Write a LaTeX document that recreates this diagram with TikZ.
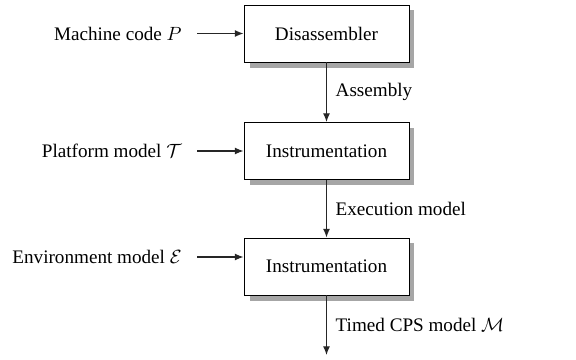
\documentclass[tikz,border=0pt]{standalone}
\usepackage{fontspec}
\setmainfont{Liberation Serif}
\usetikzlibrary{arrows.meta}
\begin{document}
\begin{tikzpicture}[x=0.5225pt,y=-0.5225pt,
  boxsize/.style={minimum width=86.2pt, minimum height=29.8pt, inner sep=0pt},
  stage/.style={boxsize, draw=black, line width=0.5pt, fill=white},
  boxshadow/.style={boxsize, fill=black!35},
  flow/.style={-{Latex[length=4.5pt,width=3.6pt]}, line width=0.6pt, draw=black!85},
  src/.style={anchor=east, inner sep=0pt},
  lbl/.style={anchor=west, inner sep=0pt},
  font=\fontsize{10}{12}\selectfont]
\useasboundingbox (0,0) rectangle (576,360);

% offset shadows, drawn first so the stages cover them
\node[boxshadow] (sh1) at (332,39) {};
\node[boxshadow] (sh2) at (332,156.5) {};
\node[boxshadow] (sh3) at (332,272) {};

\node[stage] (dis) at (326.5,33.5) {Disassembler};
\node[stage] (ins1) at (326.5,151) {Instrumentation};
\node[stage] (ins2) at (326.5,266.5) {Instrumentation};

\node[src] (mc) at (182,33.5) {Machine code $P$};
\node[src] (pm) at (182,151) {Platform model $\mathcal{T}$};
\node[src] (em) at (182,257) {Environment model $\mathcal{E}$};
\coordinate (out) at (326.5,355);

\draw[flow] (mc.east) ++(15,0) -- (dis.west |- mc.east);
\draw[flow] (pm.east) ++(15,0) -- (ins1.west |- pm.east);
\draw[flow] (em.east) ++(15,0) -- (ins2.west |- em.east);

\draw[flow] (dis.south) -- node[lbl, xshift=4.5pt] (a1) {Assembly} (ins1.north);
\draw[flow] (ins1.south) -- node[lbl, xshift=4.5pt] (a2) {Execution model} (ins2.north);
\draw[flow] (ins2.south) -- node[lbl, xshift=4.5pt] (a3) {Timed CPS model $\mathcal{M}$} (out);
\end{tikzpicture}
\end{document}
